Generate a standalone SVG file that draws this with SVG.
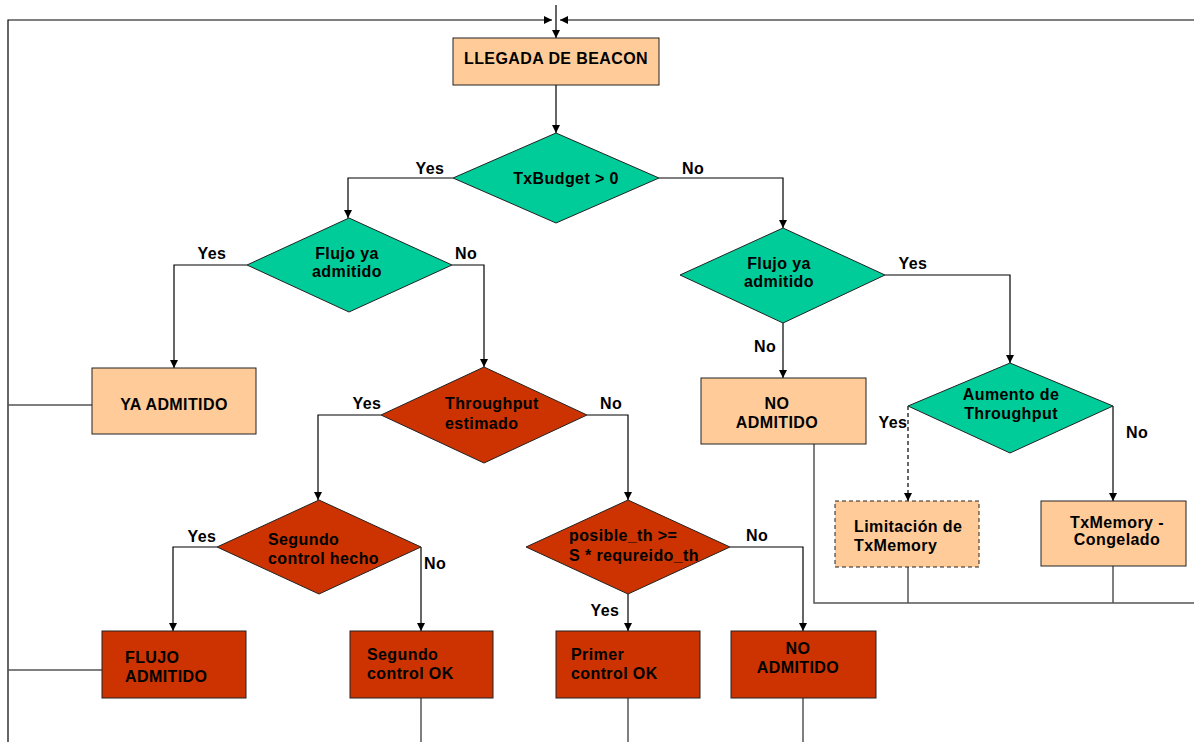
<svg xmlns="http://www.w3.org/2000/svg" width="1194" height="742" viewBox="0 0 1194 742">
<style>
.t{font-family:"Liberation Sans",Arial,sans-serif;font-weight:bold;font-size:16px;fill:#000;letter-spacing:0.4px}
.m{text-anchor:middle}
.peach{fill:#FFCC99;stroke:#222;stroke-width:1}
.green{fill:#00CC99;stroke:#222;stroke-width:1}
.red{fill:#CC3300;stroke:#222;stroke-width:1}
.c{fill:none;stroke:#000;stroke-width:1.2}
.g{fill:none;stroke:#555;stroke-width:1.5}
</style>
<defs>
<marker id="ah" viewBox="0 0 10 10" refX="10" refY="5" markerWidth="8" markerHeight="8" markerUnits="userSpaceOnUse" orient="auto">
<path d="M0,0 L10,5 L0,10 z" fill="#000"/>
</marker>
</defs>
<rect width="1194" height="742" fill="#fff"/>
<g id="connectors">
<path class="c" d="M556,5 V38" marker-end="url(#ah)"/>
<path class="c" d="M8,742 V20 H552" marker-end="url(#ah)"/>
<path class="c" d="M1194,20 H560" marker-end="url(#ah)"/>
<path class="c" d="M556,85 V133" marker-end="url(#ah)"/>
<path class="c" d="M453,178 H348 V218" marker-end="url(#ah)"/>
<path class="c" d="M659,178 H783 V228" marker-end="url(#ah)"/>
<path class="c" d="M247,265 H174 V368" marker-end="url(#ah)"/>
<path class="c" d="M452,265 H484 V367" marker-end="url(#ah)"/>
<path class="g" d="M8,405 H92"/>
<path class="c" d="M885,275 H1010 V363" marker-end="url(#ah)"/>
<path class="c" d="M783,323 V378" marker-end="url(#ah)"/>
<path class="c" d="M381,415 H318 V500" marker-end="url(#ah)"/>
<path class="c" d="M587,415 H628 V500" marker-end="url(#ah)"/>
<path class="c" d="M908,406 V501" stroke-dasharray="4,3" marker-end="url(#ah)"/>
<path class="c" d="M1113,406 V501" marker-end="url(#ah)"/>
<path class="g" d="M814,444 V603 H1194 M908,567 V603 M1113,566 V603"/>
<path class="c" d="M217,547 H173 V631" marker-end="url(#ah)"/>
<path class="c" d="M421,547 V631" marker-end="url(#ah)"/>
<path class="c" d="M730,547 H803 V631" marker-end="url(#ah)"/>
<path class="c" d="M628,594 V631" marker-end="url(#ah)"/>
<path class="g" d="M8,670 H102"/>
<path class="g" d="M421,698 V742 M628,698 V742 M803,698 V742"/>
</g>
<g id="labels">
<text class="t m" x="430" y="174">Yes</text>
<text class="t m" x="693" y="174">No</text>
<text class="t m" x="212" y="259">Yes</text>
<text class="t m" x="466" y="259">No</text>
<text class="t m" x="913" y="269">Yes</text>
<text class="t m" x="765" y="352">No</text>
<text class="t m" x="367" y="409">Yes</text>
<text class="t m" x="611" y="409">No</text>
<text class="t m" x="893" y="428">Yes</text>
<text class="t m" x="1137" y="438">No</text>
<text class="t m" x="202" y="542">Yes</text>
<text class="t m" x="435" y="569">No</text>
<text class="t m" x="757" y="541">No</text>
<text class="t m" x="605" y="616">Yes</text>
</g>
<g id="n-beacon">
<rect class="peach" x="453" y="38" width="206" height="47"/>
<text class="t m" x="556" y="64">LLEGADA DE BEACON</text>
</g>
<g id="n-txbudget">
<polygon class="green" points="556,133 659,178 556,223 453,178"/>
<text class="t m" x="566" y="184">TxBudget &gt; 0</text>
</g>
<g id="n-flujo1">
<polygon class="green" points="349,218 452,265 349,312 247,265"/>
<text class="t m" x="347" y="259">Flujo ya</text>
<text class="t m" x="347" y="277">admitido</text>
</g>
<g id="n-flujo2">
<polygon class="green" points="783,228 885,275 783,323 680,275"/>
<text class="t m" x="779" y="269">Flujo ya</text>
<text class="t m" x="779" y="287">admitido</text>
</g>
<g id="n-ya-admitido">
<rect class="peach" x="92" y="368" width="164" height="66"/>
<text class="t m" x="174" y="410">YA ADMITIDO</text>
</g>
<g id="n-throughput">
<polygon class="red" points="484,367 587,415 484,463 381,415"/>
<text class="t" x="445" y="409">Throughput</text>
<text class="t" x="445" y="429">estimado</text>
</g>
<g id="n-no-admitido1">
<rect class="peach" x="701" y="378" width="165" height="66"/>
<text class="t m" x="777" y="409">NO</text>
<text class="t m" x="777" y="428">ADMITIDO</text>
</g>
<g id="n-aumento">
<polygon class="green" points="1010,363 1113,406 1010,453 908,406"/>
<text class="t m" x="1011" y="400">Aumento de</text>
<text class="t m" x="1011" y="419">Throughput</text>
</g>
<g id="n-limitacion">
<rect class="peach" x="835" y="501" width="144" height="66" stroke-dasharray="4,3"/>
<text class="t" x="854" y="532">Limitación de</text>
<text class="t" x="854" y="551">TxMemory</text>
</g>
<g id="n-congelado">
<rect class="peach" x="1041" y="501" width="145" height="65"/>
<text class="t m" x="1117" y="528">TxMemory -</text>
<text class="t m" x="1117" y="545">Congelado</text>
</g>
<g id="n-segundo">
<polygon class="red" points="319,500 421,547 319,594 217,547"/>
<text class="t" x="268" y="545">Segundo</text>
<text class="t" x="268" y="564">control hecho</text>
</g>
<g id="n-posible">
<polygon class="red" points="628,500 730,547 628,594 526,547"/>
<text class="t" x="569" y="541">posible_th &gt;=</text>
<text class="t" x="569" y="561">S * requreido_th</text>
</g>
<g id="n-flujo-admitido">
<rect class="red" x="102" y="631" width="144" height="67"/>
<text class="t" x="125" y="663">FLUJO</text>
<text class="t" x="125" y="682">ADMITIDO</text>
</g>
<g id="n-segundo-ok">
<rect class="red" x="350" y="631" width="143" height="67"/>
<text class="t" x="367" y="660">Segundo</text>
<text class="t" x="367" y="679">control OK</text>
</g>
<g id="n-primer-ok">
<rect class="red" x="556" y="631" width="144" height="67"/>
<text class="t" x="571" y="660">Primer</text>
<text class="t" x="571" y="679">control OK</text>
</g>
<g id="n-no-admitido2">
<rect class="red" x="731" y="631" width="145" height="67"/>
<text class="t m" x="798" y="654">NO</text>
<text class="t m" x="798" y="673">ADMITIDO</text>
</g>
</svg>
